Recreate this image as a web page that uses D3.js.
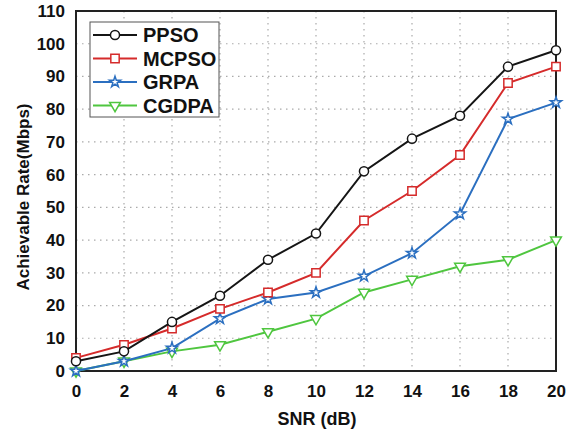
<!DOCTYPE html>
<html lang="en">
<head>
<meta charset="utf-8"/>
<script src="https://d3js.org/d3.v7.min.js"></script>
<style>
  body { margin: 0; background: #fff; }
  svg text { font-family: Arial, "Liberation Sans", sans-serif; font-weight: bold; fill: #111; }
</style>
</head>
<body>
<div id="chart"></div>
<script>
// data
const snr = [0, 2, 4, 6, 8, 10, 12, 14, 16, 18, 20];
const ppso  = [3, 6, 15, 23, 34, 42, 61, 71, 78, 93, 98];
const mcpso = [4, 8, 13, 19, 24, 30, 46, 55, 66, 88, 93];
const grpa  = [0, 3, 7, 16, 22, 24, 29, 36, 48, 77, 82];
const cgdpa = [0, 3, 6, 8, 12, 16, 24, 28, 32, 34, 40];
const seriesNames = ["PPSO", "MCPSO", "GRPA", "CGDPA"];
const xTicks = [0, 2, 4, 6, 8, 10, 12, 14, 16, 18, 20];
const yTicks = [0, 10, 20, 30, 40, 50, 60, 70, 80, 90, 100, 110];

const width = 577, height = 431;
const margin = {top: 11, right: 21, bottom: 60, left: 76};

const series = [
  {name: seriesNames[0], values: ppso,  color: "#151515", marker: "circle"},
  {name: seriesNames[1], values: mcpso, color: "#d52b2b", marker: "square"},
  {name: seriesNames[2], values: grpa,  color: "#2b6fc0", marker: "star"},
  {name: seriesNames[3], values: cgdpa, color: "#4fc63f", marker: "tri"}
];

const svg = d3.select("#chart").append("svg")
  .attr("width", width).attr("height", height);

const x = d3.scaleLinear().domain([0, 20]).range([margin.left, width - margin.right]);
const y = d3.scaleLinear().domain([0, 110]).range([height - margin.bottom, margin.top]);

// dotted grid
svg.append("g").selectAll("line").data(xTicks.slice(1, -1)).enter().append("line")
  .attr("x1", d => x(d)).attr("x2", d => x(d))
  .attr("y1", y(110)).attr("y2", y(0))
  .attr("stroke", "#aaa").attr("stroke-width", 1.2).attr("stroke-dasharray", "1.5,4.5");
svg.append("g").selectAll("line").data(yTicks.slice(1, -1)).enter().append("line")
  .attr("x1", x(0)).attr("x2", x(20))
  .attr("y1", d => y(d)).attr("y2", d => y(d))
  .attr("stroke", "#aaa").attr("stroke-width", 1.2).attr("stroke-dasharray", "1.5,4.5");

// axes (labels only, border drawn separately)
const xAxis = svg.append("g").attr("transform", `translate(0,${y(0)})`)
  .call(d3.axisBottom(x).tickValues(xTicks).tickSize(0).tickPadding(14));
xAxis.select(".domain").remove();
xAxis.selectAll("text").attr("font-size", 17).style("font-family", "Arial, sans-serif");

const yAxis = svg.append("g").attr("transform", `translate(${x(0)},0)`)
  .call(d3.axisLeft(y).tickValues(yTicks).tickSize(0).tickPadding(11));
yAxis.select(".domain").remove();
yAxis.selectAll("text").attr("font-size", 17).style("font-family", "Arial, sans-serif");

// plot border
svg.append("rect")
  .attr("x", x(0)).attr("y", y(110))
  .attr("width", x(20) - x(0)).attr("height", y(0) - y(110))
  .attr("fill", "none").attr("stroke", "#222").attr("stroke-width", 2);

// axis titles
svg.append("text").attr("x", 317).attr("y", 425)
  .attr("text-anchor", "middle").attr("font-size", 18).text("SNR (dB)");
svg.append("text")
  .attr("transform", `translate(29,197) rotate(-90)`)
  .attr("text-anchor", "middle").attr("font-size", 17).text("Achievable Rate(Mbps)");

const symbols = {
  circle: d3.symbol().type(d3.symbolCircle).size(65),
  square: d3.symbol().type(d3.symbolSquare).size(70),
  star: d3.symbol().type(d3.symbolStar).size(38),
  tri: d3.symbol().type(d3.symbolTriangle).size(50)
};

function drawMarker(g, s, cx, cy) {
  g.append("path")
    .attr("d", symbols[s.marker]())
    .attr("transform", `translate(${cx},${cy})` + (s.marker === "tri" ? " rotate(180)" : ""))
    .attr("fill", "#fff").attr("stroke", s.color).attr("stroke-width", 1.5);
}

const line = d3.line().x((d, i) => x(snr[i])).y(d => y(d));

// draw in reverse so PPSO sits on top
series.slice().reverse().forEach(s => {
  const g = svg.append("g");
  g.append("path").datum(s.values)
    .attr("d", line).attr("fill", "none")
    .attr("stroke", s.color).attr("stroke-width", 2);
  s.values.forEach((v, i) => drawMarker(g, s, x(snr[i]), y(v)));
});

// legend
const lg = svg.append("g");
lg.append("rect").attr("x", 90).attr("y", 22).attr("width", 129).attr("height", 95)
  .attr("fill", "#fff").attr("stroke", "#555").attr("stroke-width", 1);
series.forEach((s, i) => {
  const ly = 35 + i * 23.5;
  lg.append("line").attr("x1", 93).attr("x2", 137).attr("y1", ly).attr("y2", ly)
    .attr("stroke", s.color).attr("stroke-width", 2);
  drawMarker(lg, s, 115, ly);
  lg.append("text").attr("x", 143).attr("y", ly).attr("dy", "0.36em")
    .attr("font-size", 20).text(s.name);
});
</script>
</body>
</html>
